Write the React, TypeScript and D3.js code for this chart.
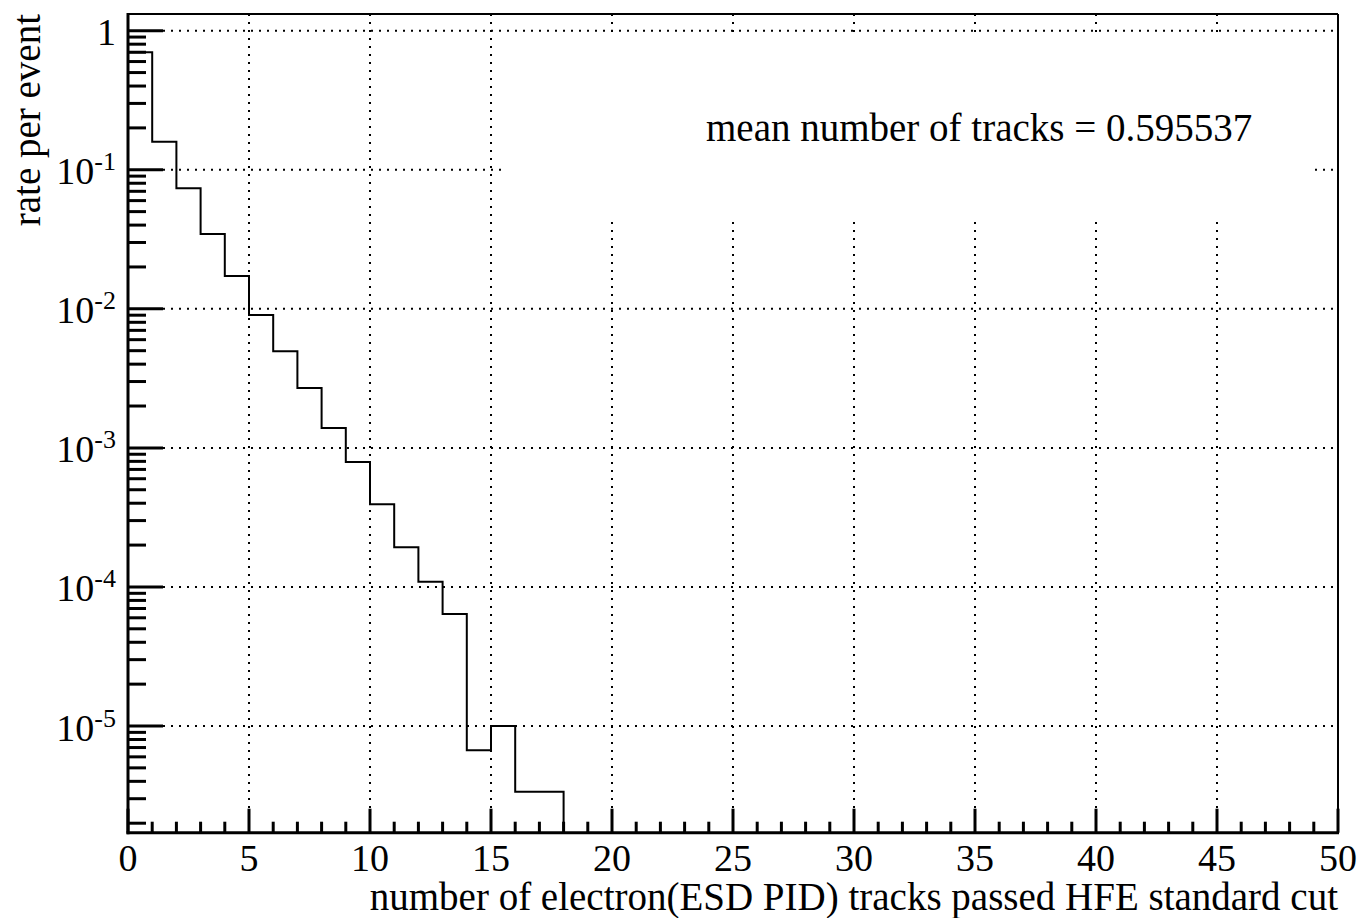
import React from "react";
import * as d3 from "d3";

// ---- data ----
const binLow: number[] = [0, 1, 2, 3, 4, 5, 6, 7, 8, 9, 10, 11, 12, 13, 14, 15, 16, 17];
const rates: number[] = [
  0.699, 0.159, 0.0736, 0.0345, 0.0172, 0.00903, 0.00495, 0.0027, 0.00139,
  0.000792, 0.000393, 0.000193, 0.000109, 6.39e-5, 6.68e-6, 1.0e-5, 3.37e-6, 3.37e-6,
];
const xTickLabels: number[] = [0, 5, 10, 15, 20, 25, 30, 35, 40, 45, 50];
const yDecades: number[] = [0, -1, -2, -3, -4, -5];
const xTitle = "number of electron(ESD PID) tracks passed HFE standard cut";
const yTitle = "rate per event";
const meanText = "mean number of tracks = 0.595537";

const W = 1359;
const H = 918;
const L = 128;
const R = 1338;
const T = 14;
const B = 832.7;
const FONT = "'Liberation Serif', 'Times New Roman', serif";

export default function App() {
  const x = d3.scaleLinear().domain([0, 50]).range([L, R]);
  const y = d3.scaleLog().domain([1e-5, 1]).range([726, 30.7]);

  // histogram outline
  const pts: [number, number][] = [];
  binLow.forEach((lo, i) => {
    const v = rates[i];
    pts.push([x(lo), y(v)]);
    pts.push([x(lo + 1), y(v)]);
  });
  pts.push([x(binLow[binLow.length - 1] + 1), B]);
  const line = d3.line<[number, number]>().x((d) => d[0]).y((d) => d[1]);
  const histPath = line(pts) || "";

  // y minor ticks
  const yMinor: number[] = [];
  for (let d = -7; d <= 0; d++) {
    for (let m = 2; m <= 9; m++) {
      const v = m * Math.pow(10, d);
      const py = y(v);
      if (py >= T && py <= B) yMinor.push(py);
    }
  }
  // x minor ticks
  const xMinor: number[] = d3.range(1, 50).filter((v) => v % 5 !== 0);

  const dot = { stroke: "#000", strokeWidth: 2, strokeDasharray: "2 6" };

  return (
    <svg
      width={W}
      height={H}
      style={{ position: "absolute", left: 0, top: 0, background: "#fff" }}
      fontFamily={FONT}
    >
      <rect x={0} y={0} width={W} height={H} fill="#fff" />
      {/* grid */}
      {xTickLabels
        .filter((v) => v > 0 && v < 50)
        .map((v) => (
          <line key={"gx" + v} x1={x(v)} x2={x(v)} y1={T} y2={B - 24} {...dot} />
        ))}
      {yDecades.map((d) => (
        <line
          key={"gy" + d}
          x1={L + 35}
          x2={R}
          y1={y(Math.pow(10, d))}
          y2={y(Math.pow(10, d))}
          {...dot}
        />
      ))}
      {/* text box covering grid */}
      <rect x={507} y={33} width={804} height={188} fill="#fff" />
      <text x={706} y={141} fontSize={39} fill="#000">
        {meanText}
      </text>

      {/* histogram */}
      <path d={histPath} fill="none" stroke="#000" strokeWidth={2} />

      {/* frame */}
      <line x1={L} x2={R} y1={T} y2={T} stroke="#000" strokeWidth={2} />
      <line x1={R} x2={R} y1={T} y2={B} stroke="#000" strokeWidth={2} />
      <line x1={L} x2={L} y1={T - 1} y2={B + 1.5} stroke="#000" strokeWidth={3} />
      <line x1={L - 1.5} x2={R + 1} y1={B} y2={B} stroke="#000" strokeWidth={3} />

      {/* y ticks */}
      {yDecades.map((d) => (
        <line
          key={"yt" + d}
          x1={L}
          x2={L + 35}
          y1={y(Math.pow(10, d))}
          y2={y(Math.pow(10, d))}
          stroke="#000"
          strokeWidth={3}
        />
      ))}
      {yMinor.map((py, i) => (
        <line key={"ym" + i} x1={L} x2={L + 18} y1={py} y2={py} stroke="#000" strokeWidth={3} />
      ))}
      {/* x ticks */}
      {xTickLabels.map((v) => (
        <line key={"xt" + v} x1={x(v)} x2={x(v)} y1={B} y2={B - 24} stroke="#000" strokeWidth={3} />
      ))}
      {xMinor.map((v) => (
        <line key={"xm" + v} x1={x(v)} x2={x(v)} y1={B} y2={B - 11} stroke="#000" strokeWidth={3} />
      ))}

      {/* x tick labels */}
      {xTickLabels.map((v) => (
        <text key={"xl" + v} x={x(v)} y={870.7} fontSize={38} textAnchor="middle" fill="#000">
          {v}
        </text>
      ))}
      {/* y tick labels */}
      {yDecades.map((d) => (
        <text
          key={"yl" + d}
          x={116}
          y={y(Math.pow(10, d)) + 14.5}
          fontSize={38}
          textAnchor="end"
          fill="#000"
        >
          {d === 0 ? (
            "1"
          ) : (
            <>
              10
              <tspan fontSize={26} dy={-14}>
                {String(d)}
              </tspan>
            </>
          )}
        </text>
      ))}

      {/* axis titles */}
      <text x={R} y={910} fontSize={39} textAnchor="end" fill="#000">
        {xTitle}
      </text>
      <text
        transform={`translate(39.5, ${T}) rotate(-90)`}
        fontSize={39}
        textAnchor="end"
        fill="#000"
      >
        {yTitle}
      </text>
    </svg>
  );
}
